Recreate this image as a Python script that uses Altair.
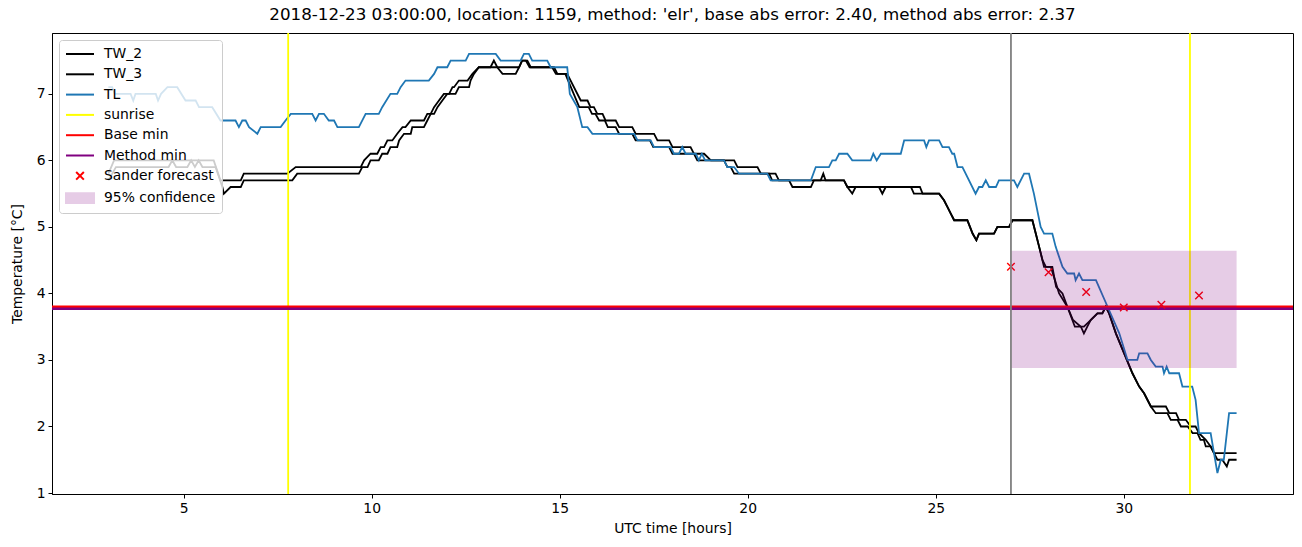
import altair as alt
import pandas as pd

TITLE = "2018-12-23 03:00:00, location: 1159, method: 'elr', base abs error: 2.40, method abs error: 2.37"

tl_t = [3.0, 3.1, 3.17, 3.59, 3.66, 3.72, 4.26, 4.32, 4.4, 4.57, 4.83, 5.05, 5.32, 5.41, 5.68, 5.76, 5.98,
        6.38, 6.47, 6.56, 6.65, 6.74, 6.96, 7.05, 7.58, 7.71, 7.85, 8.42, 8.51, 8.6, 8.73, 8.86, 9.0, 9.09,
        9.66, 9.84, 10.19, 10.28, 10.5, 10.68, 10.77, 10.9, 11.52, 11.66, 11.75, 12.01, 12.1, 12.5, 12.59,
        13.3, 13.43, 13.96, 14.05, 14.18, 14.27, 14.67, 14.76, 15.2, 15.27, 15.47, 15.6, 15.74, 15.87, 16.98,
        17.07, 17.42, 17.51, 17.95, 18.04, 18.17, 18.26, 18.35, 18.62, 18.7, 18.78, 18.87, 19.37, 19.46,
        19.64, 19.77, 20.52, 20.61, 21.68, 21.81, 22.16, 22.25, 22.34, 22.43, 22.65, 22.78, 23.27, 23.34,
        23.43, 23.54, 24.07, 24.16, 24.69, 24.75, 24.82, 25.09, 25.18, 25.35, 25.44, 25.49, 25.58, 25.71,
        26.06, 26.15, 26.24, 26.33, 26.42, 26.6, 26.68, 27.08, 27.17, 27.35, 27.48, 27.61, 27.79, 27.88,
        28.1, 28.19, 28.37, 28.5, 28.68, 28.72, 28.81, 28.9, 29.26, 29.57, 29.88, 30.1, 30.36, 30.41, 30.63,
        30.72, 30.85, 31.03, 31.07, 31.14, 31.21, 31.47, 31.56, 31.82, 31.91, 32.0, 32.31, 32.49, 32.58,
        32.66, 32.8, 33.0]
tl_v = [7.1, 7.1, 7.0, 7.0, 6.9, 7.0, 7.0, 6.9, 7.0, 7.1, 7.1, 6.9, 6.9, 6.8, 6.8, 6.8, 6.6,
        6.6, 6.5, 6.6, 6.6, 6.5, 6.4, 6.5, 6.5, 6.6, 6.7, 6.7, 6.6, 6.7, 6.7, 6.6, 6.6, 6.5,
        6.5, 6.7, 6.7, 6.8, 7.0, 7.0, 7.1, 7.2, 7.2, 7.3, 7.4, 7.4, 7.5, 7.5, 7.6,
        7.6, 7.5, 7.5, 7.6, 7.6, 7.5, 7.5, 7.4, 7.4, 7.0, 6.8, 6.5, 6.5, 6.4, 6.4,
        6.3, 6.3, 6.2, 6.2, 6.1, 6.1, 6.2, 6.1, 6.1, 6.0, 6.1, 6.0, 6.0, 5.9,
        5.9, 5.8, 5.8, 5.7, 5.7, 5.9, 5.9, 6.0, 6.0, 6.1, 6.1, 6.0, 6.0, 6.1,
        6.0, 6.1, 6.1, 6.3, 6.3, 6.2, 6.3, 6.3, 6.2, 6.2, 6.1, 6.1, 5.9, 5.9,
        5.5, 5.6, 5.6, 5.7, 5.6, 5.6, 5.7, 5.7, 5.6, 5.8, 5.8, 5.5, 5.0, 4.9,
        4.9, 4.7, 4.4, 4.3, 4.3, 4.2, 4.3, 4.2, 4.2, 3.8, 3.4, 3.0, 3.0, 3.1, 3.1,
        3.0, 2.9, 2.9, 2.8, 2.9, 2.8, 2.8, 2.6, 2.6, 2.4, 1.9, 1.9, 1.3, 1.5,
        1.5, 2.2, 2.2]

tw2_t = [3.0, 3.15, 5.8, 5.98, 6.52, 6.6, 7.76, 7.98, 9.71, 9.8, 9.97, 10.15, 10.24, 10.33, 10.42, 10.55,
         10.68, 10.82, 10.9, 11.04, 11.39, 11.48, 11.57, 11.66, 11.79, 11.92, 12.06, 12.15, 12.19, 12.32,
         12.55, 12.68, 12.85, 13.16, 13.25, 13.34, 13.48, 13.83, 13.92, 14.0, 14.14, 14.23, 14.85, 14.94,
         15.2, 15.56, 15.74, 15.82, 15.91, 16.0, 16.14, 16.22, 16.49, 16.58, 16.93, 17.02, 17.51, 17.6,
         17.91, 18.0, 18.48, 18.66, 19.37, 19.46, 19.55, 19.64, 20.57, 20.65, 21.94, 22.01, 22.07, 22.56,
         22.65, 22.78, 22.87, 23.49, 23.58, 23.67, 24.34, 24.42, 25.09, 25.22, 25.31, 25.4, 25.49, 25.84,
         25.91, 25.98, 26.08, 26.15, 26.55, 26.64, 26.95, 27.04, 27.57, 27.66, 27.75, 27.88, 28.06, 28.17,
         28.28, 28.5, 28.65, 28.86, 28.94, 29.03, 29.12, 29.3, 29.43, 29.52, 29.61, 29.79, 30.01, 30.23,
         30.41, 30.54, 30.72, 31.12, 31.21, 31.39, 31.47, 31.65, 31.78, 31.91, 32.0, 32.18, 32.31, 32.4, 33.0]
tw2_v = [5.8, 6.0, 6.0, 5.7, 5.7, 5.8, 5.8, 5.9, 5.9, 6.0, 6.1, 6.1, 6.2, 6.2, 6.3, 6.3,
         6.4, 6.5, 6.5, 6.6, 6.6, 6.7, 6.7, 6.8, 6.9, 7.0, 7.0, 7.1, 7.1, 7.2,
         7.2, 7.3, 7.4, 7.4, 7.5, 7.4, 7.3, 7.3, 7.4, 7.5, 7.5, 7.4, 7.4, 7.3,
         7.3, 6.9, 6.9, 6.8, 6.8, 6.7, 6.7, 6.6, 6.6, 6.5, 6.5, 6.4, 6.4, 6.3,
         6.3, 6.2, 6.2, 6.0, 6.0, 5.9, 5.9, 5.8, 5.8, 5.7, 5.7, 5.8, 5.7, 5.7,
         5.6, 5.5, 5.6, 5.6, 5.5, 5.6, 5.6, 5.5, 5.5, 5.4, 5.3, 5.2, 5.1, 5.1,
         5.0, 4.9, 4.8, 4.9, 4.9, 5.0, 5.0, 5.1, 5.1, 4.9, 4.7, 4.4, 4.4, 4.2,
         4.0, 3.8, 3.6, 3.5, 3.4, 3.5, 3.6, 3.7, 3.7, 3.8, 3.7, 3.4, 3.1, 2.8,
         2.6, 2.5, 2.3, 2.3, 2.2, 2.2, 2.1, 2.1, 2.0, 2.0, 1.9, 1.8, 1.7, 1.6, 1.6]

tw3_t = [3.0, 3.2, 4.6, 4.7, 4.8, 5.1, 5.2, 5.3, 5.4, 5.5, 5.85, 6.03, 6.07, 6.25, 6.52, 6.6, 7.89, 8.02,
         9.66, 9.75, 9.89, 9.97, 10.19, 10.28, 10.42, 10.5, 10.68, 10.73, 10.86, 11.04, 11.08, 11.39, 11.48,
         11.57, 11.66, 11.75, 11.88, 12.01, 12.23, 12.32, 12.59, 12.63, 12.72, 12.85, 13.92, 14.0, 14.1,
         14.2, 14.8, 14.9, 15.15, 15.52, 15.77, 15.86, 15.95, 16.05, 16.2, 16.28, 16.49, 16.58, 16.93,
         17.02, 17.4, 17.49, 17.91, 18.0, 18.84, 19.02, 19.64, 19.73, 20.26, 20.35, 20.74, 20.83, 21.1,
         21.19, 21.68, 21.76, 22.56, 22.65, 24.58, 24.65, 25.09, 25.22, 25.31, 25.4, 25.49, 25.84, 25.91,
         25.98, 26.08, 26.15, 26.55, 26.64, 26.95, 27.04, 27.57, 27.66, 27.75, 27.84, 27.93, 28.1, 28.2,
         28.37, 28.5, 28.7, 28.94, 29.12, 29.3, 29.43, 29.52, 29.61, 29.79, 30.01, 30.23, 30.41, 30.54,
         30.72, 30.85, 31.16, 31.25, 31.43, 31.52, 31.7, 31.83, 31.96, 32.04, 32.13, 32.18, 32.31, 32.4,
         32.49, 32.62, 32.74, 32.8, 33.0]
tw3_v = [5.7, 5.9, 5.9, 6.0, 5.9, 5.9, 6.0, 5.9, 6.0, 5.9, 5.9, 5.6, 5.5, 5.6, 5.6, 5.7, 5.7, 5.8,
         5.8, 5.9, 5.9, 6.0, 6.0, 6.1, 6.1, 6.2, 6.2, 6.3, 6.4, 6.4, 6.5, 6.5, 6.6,
         6.7, 6.7, 6.8, 6.9, 7.0, 7.0, 7.1, 7.1, 7.2, 7.3, 7.4, 7.4, 7.5, 7.5,
         7.4, 7.4, 7.3, 7.3, 6.8, 6.8, 6.7, 6.7, 6.6, 6.6, 6.5, 6.5, 6.4, 6.4,
         6.3, 6.3, 6.2, 6.2, 6.1, 6.1, 6.0, 6.0, 5.9, 5.9, 5.8, 5.8, 5.7, 5.7,
         5.6, 5.6, 5.7, 5.7, 5.6, 5.6, 5.5, 5.5, 5.4, 5.3, 5.2, 5.1, 5.1, 5.0,
         4.9, 4.8, 4.9, 4.9, 5.0, 5.0, 5.1, 5.1, 4.9, 4.7, 4.5, 4.4, 4.4, 4.1,
         4.0, 3.8, 3.5, 3.5, 3.6, 3.7, 3.7, 3.8, 3.7, 3.4, 3.1, 2.8, 2.6, 2.5,
         2.3, 2.2, 2.2, 2.1, 2.1, 2.0, 2.0, 1.9, 1.9, 1.8, 1.8, 1.7, 1.7, 1.6,
         1.5, 1.5, 1.4, 1.5, 1.5]

sunrise_hours = [7.78, 31.76]
forecast_time = [27.0]
base_min = [3.80]
method_min = [3.77]
sander_t = [27, 28, 29, 30, 31, 32]
sander_v = [4.40, 4.32, 4.02, 3.79, 3.83, 3.97]
conf_start, conf_end = [27.0], [33.0]
conf_low, conf_high = [2.88], [4.64]

legend_labels = ["TW_2", "TW_3", "TL", "sunrise", "Base min", "Method min", "Sander forecast", "95% confidence"]
legend_strokes = ["#000000", "#000000", "#1f77b4", "#ffff00", "#ff0000", "#800080", "#ff0000", "#e6cce6"]
legend_fills = ["transparent"] * 7 + ["#e6cce6"]
LINE_PATH = "M-1,0L3,0"
X_PATH = "M0.45,-0.55L1.55,0.55M0.45,0.55L1.55,-0.55"
PATCH_PATH = "M-1,-0.7L3,-0.7L3,0.7L-1,0.7Z"
legend_shapes = [LINE_PATH] * 6 + [X_PATH, PATCH_PATH]

FONT = "DejaVu Sans"
FS = 13.9
x_scale = alt.Scale(domain=[1.5, 34.5], nice=False, zero=False)
y_scale = alt.Scale(domain=[0.985, 7.915], nice=False, zero=False)
x_axis = alt.Axis(values=[5, 10, 15, 20, 25, 30], title="UTC time [hours]", grid=False,
                  labelFontSize=FS, titleFontSize=FS, tickSize=4, tickColor="black",
                  domainColor="black", labelColor="black", titleColor="black",
                  titleFontWeight="normal", labelPadding=3, titlePadding=7, labelFont=FONT, titleFont=FONT)
y_axis = alt.Axis(values=[1, 2, 3, 4, 5, 6, 7], title="Temperature [°C]", grid=False,
                  labelFontSize=FS, titleFontSize=FS, tickSize=4, tickColor="black",
                  domainColor="black", labelColor="black", titleColor="black",
                  titleFontWeight="normal", labelPadding=3, titlePadding=12, labelFont=FONT, titleFont=FONT)


def X(field="t"):
    return alt.X(f"{field}:Q", scale=x_scale, axis=x_axis)


def Y(field="v"):
    return alt.Y(f"{field}:Q", scale=y_scale, axis=y_axis)


def line_layer(t, v, color):
    df = pd.DataFrame({"t": t, "v": v, "i": list(range(len(t)))})
    return alt.Chart(df).mark_line(color=color, strokeWidth=1.8, clip=True).encode(
        x=X(), y=Y(), order="i:Q")


tw2 = line_layer(tw2_t, tw2_v, "#000000")
tw3 = line_layer(tw3_t, tw3_v, "#000000")
tl = line_layer(tl_t, tl_v, "#1f77b4")

sunrise = alt.Chart(pd.DataFrame({"t": sunrise_hours})).mark_rule(color="#ffff00", strokeWidth=1.8).encode(x=X())
base = alt.Chart(pd.DataFrame({"v": base_min})).mark_rule(color="#ff0000", strokeWidth=2.4).encode(y=Y())
method = alt.Chart(pd.DataFrame({"v": method_min})).mark_rule(color="#800080", strokeWidth=2.4).encode(y=Y())

sander = alt.Chart(pd.DataFrame({"t": sander_t, "v": sander_v})).mark_point(
    shape="M-1,-1L1,1M-1,1L1,-1", size=56, filled=False, color="#ff0000", strokeWidth=1.4, opacity=1
).encode(x=X(), y=Y())

conf = alt.Chart(pd.DataFrame({"t": conf_start, "t2": conf_end, "v": conf_low, "v2": conf_high})).mark_rect(
    color="#800080", opacity=0.2).encode(x=X(), x2="t2:Q", y=Y(), y2="v2:Q")

fc = alt.Chart(pd.DataFrame({"t": forecast_time})).mark_rule(color="#808080", strokeWidth=1.8).encode(x=X())

leg_df = pd.DataFrame({"label": legend_labels, "t": [None] * 8, "v": [None] * 8})
legend_layer = alt.Chart(leg_df).mark_point(strokeWidth=2, opacity=1).encode(
    x=X(), y=Y(),
    stroke=alt.Stroke("label:N", sort=legend_labels,
                      scale=alt.Scale(domain=legend_labels, range=legend_strokes),
                      legend=alt.Legend(title=None, orient="top-left")),
    fill=alt.Fill("label:N", sort=legend_labels,
                  scale=alt.Scale(domain=legend_labels, range=legend_fills),
                  legend=alt.Legend(title=None, orient="top-left")),
    shape=alt.Shape("label:N", sort=legend_labels,
                    scale=alt.Scale(domain=legend_labels, range=legend_shapes),
                    legend=alt.Legend(title=None, orient="top-left")),
)

chart = alt.layer(tw2, tw3, tl, sunrise, base, method, sander, conf, fc, legend_layer).properties(
    width=1241, height=461,
    title=alt.TitleParams(TITLE, fontSize=16.7, font=FONT, fontWeight="normal", color="black", offset=8),
    autosize=alt.AutoSizeParams(type="none"),
    padding={"left": 52, "top": 33, "right": 9, "bottom": 53},
).configure(font=FONT).configure_view(stroke="black", strokeWidth=1).configure_legend(
    symbolSize=196, symbolStrokeWidth=2, labelFontSize=FS, labelFont=FONT, labelColor="black",
    labelOffset=23, rowPadding=5.3, padding=6, offset=7,
    fillColor="rgba(255,255,255,0.8)", strokeColor="#cccccc", cornerRadius=3,
)

chart.save("out.html", embed_options={"renderer": "svg", "actions": False})
